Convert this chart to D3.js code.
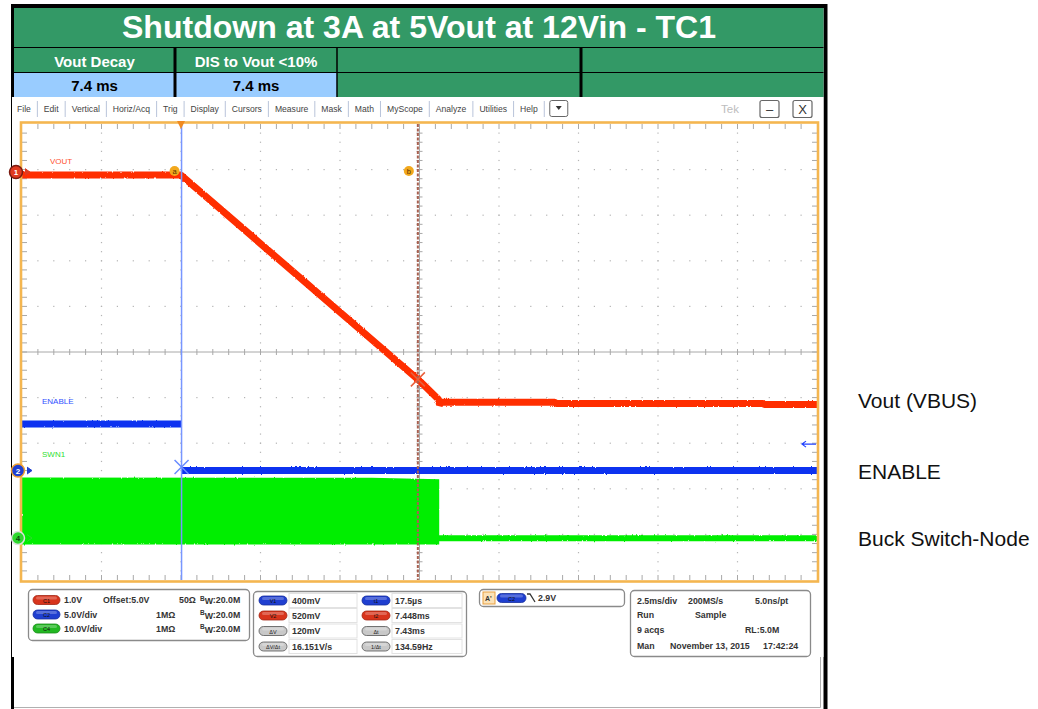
<!DOCTYPE html>
<html><head><meta charset="utf-8">
<script src="https://cdn.jsdelivr.net/npm/d3@7/dist/d3.min.js"></script>
<style>
html,body{margin:0;padding:0;background:#fff;}
svg{display:block;}
text{font-family:"Liberation Sans",Arial,Helvetica,sans-serif;}
</style></head>
<body>
<svg id="chart" width="1038" height="709"></svg>
<script>
// ================= DATA =================
const titleText = "Shutdown at 3A at 5Vout at 12Vin - TC1";
const headerLabels = ["Vout Decay", "DIS to Vout <10%", "", ""];
const headerValues = ["7.4 ms", "7.4 ms", "", ""];
const menuItems = ["File","Edit","Vertical","Horiz/Acq","Trig","Display","Cursors","Measure","Mask","Math","MyScope","Analyze","Utilities","Help"];

const timeDomainMs = [-5, 20];           // 2.5 ms/div, 10 divisions
// C1 : VOUT (volts vs ms)
const voutTime  = [-5, 0, 7.45, 8.1, 8.13, 8.2, 11.75, 11.8, 18.3, 18.35, 20];
const voutVolts = [5.0, 5.0, 0.52, 0.08, -0.04, 0.02, 0.02, -0.01, -0.01, -0.03, -0.03];
// C2 : ENABLE
const enableTime  = [-5, 0, 0, 0.02, 20];
const enableVolts = [5.1, 5.1, NaN, 0.0, 0.0];
// C4 : SWN1 switching envelope
const swTime = [-5, 6, 8.12, 8.12, 20];
const swHigh = [13.3, 13.2, 12.9, 0.6, 0.6];
const swLow  = [-1.4, -1.4, -1.4, -0.7, -0.7];

const traceNames = ["VOUT", "ENABLE", "SWN1"];
const sideLabels = ["Vout (VBUS)", "ENABLE", "Buck Switch-Node"];

const chanNames   = ["C1", "C2", "C4"];
const chanVdiv    = [1.0, 5.0, 10.0];
const chanOffset  = [5.0, 0, 0];
const chanPosDiv  = [3.88, -2.6, -4.08];
const chanScaleText  = ["1.0V", "5.0V/div", "10.0V/div"];
const chanOffsetText = ["Offset:5.0V", "", ""];
const chanImpText    = ["50Ω", "1MΩ", "1MΩ"];
const chanBwText     = [":20.0M", ":20.0M", ":20.0M"];

const cursorTimesMs = [0.0175, 7.448];
const cursorVolts   = [0.400, 0.520];
const triggerLevel  = 2.9;

const readLeftNames  = ["V1", "V2", "ΔV", "ΔV/Δt"];
const readLeftVals   = ["400mV", "520mV", "120mV", "16.151V/s"];
const readRightNames = ["t1", "t2", "Δt", "1/Δt"];
const readRightVals  = ["17.5µs", "7.448ms", "7.43ms", "134.59Hz"];
const trigText = "2.9V";
const acqRows = [["2.5ms/div", "200MS/s", "5.0ns/pt"], ["Run", "Sample", ""], ["9 acqs", "", "RL:5.0M"], ["Man", "November 13, 2015", "17:42:24"]];

// ================= COLORS =================
const cGreen = "#339966", cBlue = "#99ccff";
const colV = "#ff2d00", colE = "#0a32f0", colS = "#00ee00";
const chanColor = ["#d8341c", "#1f3fd0", "#22b822"];

// ================= DRAW =================
const svg = d3.select("#chart");
const defs = svg.append("defs");
const fz = defs.append("filter").attr("id", "fuzz").attr("x", "-2%").attr("y", "-20%").attr("width", "104%").attr("height", "140%");
fz.append("feTurbulence").attr("type", "fractalNoise").attr("baseFrequency", "0.9 0.35").attr("numOctaves", 1).attr("seed", 3).attr("result", "n");
fz.append("feDisplacementMap").attr("in", "SourceGraphic").attr("in2", "n").attr("scale", 2.5)
  .attr("xChannelSelector", "R").attr("yChannelSelector", "G");

// ---- header table ----
svg.append("rect").attr("x", 11).attr("y", 4).attr("width", 816).attr("height", 4).attr("fill", "#000");
svg.append("rect").attr("x", 11).attr("y", 4).attr("width", 3).attr("height", 705).attr("fill", "#000");
svg.append("rect").attr("x", 823.5).attr("y", 4).attr("width", 4).attr("height", 705).attr("fill", "#000");
svg.append("rect").attr("x", 14).attr("y", 8).attr("width", 809.5).attr("height", 89).attr("fill", cGreen);
const colEdges = [14, 175, 337, 581, 823.5];
headerValues.forEach((v, i) => {
  if (i < 2) svg.append("rect").attr("x", colEdges[i]).attr("y", 73).attr("width", colEdges[i+1]-colEdges[i]).attr("height", 24).attr("fill", cBlue);
});
svg.append("line").attr("x1", 14).attr("x2", 823.5).attr("y1", 47.5).attr("y2", 47.5).attr("stroke", "#000").attr("stroke-width", 1.2);
svg.append("line").attr("x1", 14).attr("x2", 823.5).attr("y1", 72.5).attr("y2", 72.5).attr("stroke", "#000").attr("stroke-width", 1.2);
[[175, 3], [337, 1.5], [581, 3]].forEach(([xx, w]) =>
  svg.append("line").attr("x1", xx).attr("x2", xx).attr("y1", 47).attr("y2", 97).attr("stroke", "#000").attr("stroke-width", w));
svg.append("text").attr("x", 419).attr("y", 37.5).attr("text-anchor", "middle")
  .attr("font-size", 31).attr("font-weight", "bold").attr("fill", "#fff")
  .attr("textLength", 594).attr("lengthAdjust", "spacingAndGlyphs").text(titleText);
headerLabels.forEach((t, i) => {
  svg.append("text").attr("x", (colEdges[i]+colEdges[i+1])/2).attr("y", 66.5).attr("text-anchor", "middle")
    .attr("font-size", 15).attr("font-weight", "bold").attr("fill", "#fff").text(t);
  svg.append("text").attr("x", (colEdges[i]+colEdges[i+1])/2).attr("y", 91).attr("text-anchor", "middle")
    .attr("font-size", 15).attr("font-weight", "bold").attr("fill", "#000").text(headerValues[i]);
});

// ---- scope screenshot background ----
svg.append("rect").attr("x", 12).attr("y", 97).attr("width", 811.5).attr("height", 560).attr("fill", "#fff");
svg.append("path").attr("d", "M14,707.5H820.5V657").attr("fill", "none").attr("stroke", "#b0b0b0").attr("stroke-width", 1);

// menu bar
const menu = svg.append("g").attr("font-size", 8.6).attr("fill", "#444");
let mx = 17;
menuItems.forEach((m, i) => {
  const t = menu.append("text").attr("x", mx).attr("y", 111.5).text(m);
  const w = t.node().getComputedTextLength();
  mx += w + 6.5;
  menu.append("line").attr("x1", mx).attr("x2", mx).attr("y1", 101).attr("y2", 117).attr("stroke", "#b9c4da").attr("stroke-width", 1);
  mx += 6.5;
});
menu.append("rect").attr("x", mx - 1).attr("y", 100.5).attr("width", 18).attr("height", 16).attr("rx", 2)
  .attr("fill", "#fff").attr("stroke", "#666").attr("stroke-width", 1);
menu.append("path").attr("d", `M${mx+5},106 h6 l-3,4 z`).attr("fill", "#333");
svg.append("text").attr("x", 721).attr("y", 113).attr("font-size", 11.5).attr("fill", "#bdbdbd").text("Tek");
[[760, "–"], [793, "X"]].forEach(([bx, s]) => {
  svg.append("rect").attr("x", bx).attr("y", 100.5).attr("width", 19).attr("height", 17).attr("rx", 2)
    .attr("fill", "#fff").attr("stroke", "#666").attr("stroke-width", 1.2);
  svg.append("text").attr("x", bx + 9.5).attr("y", 114).attr("text-anchor", "middle").attr("font-size", 13)
    .attr("fill", "#333").text(s);
});

// ---- plot scales ----
const X0 = 22, X1 = 817, Y0 = 124, Y1 = 580;
const x  = d3.scaleLinear().domain(timeDomainMs).range([X0, X1]);
const xd = d3.scaleLinear().domain([0, 10]).range([X0, X1]);
const yd = d3.scaleLinear().domain([-5, 5]).range([Y1, Y0]);
const chY = c => v => yd((v - chanOffset[c]) / chanVdiv[c] + chanPosDiv[c]);
const y1 = chY(0), y2 = chY(1), y4 = chY(2);

const plot = svg.append("g");
// graticule dots
const grid = plot.append("g").attr("fill", "#b4b4b4");
for (let i = 1; i < 10; i++) {
  if (i === 5) continue;
  for (let k = 1; k < 50; k++) {
    grid.append("rect").attr("x", xd(i) - 0.6).attr("y", yd(-5 + k/5) - 0.6).attr("width", 1.2).attr("height", 1.2);
    grid.append("rect").attr("x", xd(k/5) - 0.6).attr("y", yd(-5 + i) - 0.6).attr("width", 1.2).attr("height", 1.2);
  }
}
// center lines with ticks
const gc = plot.append("g").attr("stroke", "#a8a8a8").attr("stroke-width", 1);
gc.append("line").attr("x1", X0).attr("x2", X1).attr("y1", yd(0)).attr("y2", yd(0));
gc.append("line").attr("x1", xd(5)).attr("x2", xd(5)).attr("y1", Y0).attr("y2", Y1);
for (let k = 1; k < 50; k++) {
  const xx = xd(k/5), yy = yd(-5 + k/5);
  gc.append("line").attr("x1", xx).attr("x2", xx).attr("y1", yd(0) - 3).attr("y2", yd(0) + 3);
  gc.append("line").attr("x1", xd(5) - 3).attr("x2", xd(5) + 3).attr("y1", yy).attr("y2", yy);
  gc.append("line").attr("x1", xx).attr("x2", xx).attr("y1", Y0).attr("y2", Y0 + 5);
  gc.append("line").attr("x1", xx).attr("x2", xx).attr("y1", Y1).attr("y2", Y1 - 5);
  gc.append("line").attr("x1", X0).attr("x2", X0 + 5).attr("y1", yy).attr("y2", yy);
  gc.append("line").attr("x1", X1).attr("x2", X1 - 5).attr("y1", yy).attr("y2", yy);
}

// SWN1 envelope
const swData = swTime.map((t, i) => ({t, hi: swHigh[i], lo: swLow[i]}));
plot.append("path").datum(swData).attr("fill", colS).attr("filter", "url(#fuzz)")
  .attr("d", d3.area().x(d => x(d.t)).y0(d => y4(d.lo)).y1(d => y4(d.hi)));

// ENABLE
const enData = enableTime.map((t, i) => ({t, v: enableVolts[i]}));
plot.append("path").datum(enData).attr("fill", "none").attr("stroke", colE).attr("stroke-width", 7).attr("filter", "url(#fuzz)")
  .attr("d", d3.line().defined(d => !isNaN(d.v)).x(d => x(d.t)).y(d => y2(d.v)));

// VOUT
const voData = voutTime.map((t, i) => ({t, v: voutVolts[i]}));
plot.append("path").datum(voData).attr("fill", "none").attr("stroke", colV).attr("stroke-width", 7)
  .attr("stroke-linejoin", "bevel").attr("filter", "url(#fuzz)")
  .attr("d", d3.line().x(d => x(d.t)).y(d => y1(d.v)));

// trace name labels
const tl = plot.append("g").attr("font-size", 8);
tl.append("text").attr("x", 50).attr("y", y1(5) - 11).attr("fill", "#ff5030").text(traceNames[0]);
tl.append("text").attr("x", 42).attr("y", y2(5.1) - 20).attr("fill", "#3050ff").text(traceNames[1]);
tl.append("text").attr("x", 42).attr("y", y4(13.3) - 20).attr("fill", "#30e030").text(traceNames[2]);

// cursors
const cx1 = x(cursorTimesMs[0]), cx2 = x(cursorTimesMs[1]);
plot.append("line").attr("x1", cx1).attr("x2", cx1).attr("y1", Y0).attr("y2", Y1).attr("stroke", "#7896ff").attr("stroke-width", 1.5);
plot.append("line").attr("x1", cx2).attr("x2", cx2).attr("y1", Y0).attr("y2", Y1).attr("stroke", "#a86050")
  .attr("stroke-width", 2).attr("stroke-dasharray", "3,1.5");
function xMark(cx, cy, col) {
  plot.append("path").attr("d", `M${cx-7},${cy-7}L${cx+7},${cy+7}M${cx-7},${cy+7}L${cx+7},${cy-7}`)
    .attr("stroke", col).attr("stroke-width", 1.5).attr("fill", "none");
}
xMark(cx1, y2(cursorVolts[0]), "#6a8cff");
xMark(cx2, y1(cursorVolts[1]), "#e8603c");
[[cx1 - 7, "a"], [cx2 - 9, "b"]].forEach(([ax, s]) => {
  plot.append("circle").attr("cx", ax).attr("cy", y1(5) - 4).attr("r", 5).attr("fill", "#f2a81c");
  plot.append("text").attr("x", ax).attr("y", y1(5) - 1.5).attr("text-anchor", "middle").attr("font-size", 7.5).attr("fill", "#553300").text(s);
});

// frame
plot.append("rect").attr("x", X0 - 1).attr("y", Y0 - 1.5).attr("width", X1 - X0 + 2).attr("height", Y1 - Y0 + 3)
  .attr("fill", "none").attr("stroke", "#f4b650").attr("stroke-width", 2.6);
// trigger position marker
plot.append("path").attr("d", `M${x(0)-4},${Y0-3}h8l-4,8z`).attr("fill", "#f08a20");
// trigger level arrow
const ty = y2(triggerLevel);
plot.append("path").attr("d", `M${X1-1},${ty}H${X1-15}M${X1-11},${ty-3}L${X1-15},${ty}L${X1-11},${ty+3}`)
  .attr("stroke", "#2040ff").attr("stroke-width", 1.2).attr("fill", "none");

// channel markers
[[0, y1(5) - 3, 16, "#e03a20", "#7a1a10", "1"], [1, y2(0), 18, "#1f3fd0", "#f0a030", "2"], [2, y4(0), 18, "#2ed82e", "#e0e0e0", "4"]]
.forEach(([c, cy, cx, fill, ring, lab]) => {
  plot.append("path").attr("d", `M${cx+9},${cy-3.5}L${cx+14},${cy}L${cx+9},${cy+3.5}`)
    .attr("fill", c === 2 ? "none" : fill).attr("stroke", fill).attr("stroke-width", 1);
  plot.append("circle").attr("cx", cx).attr("cy", cy).attr("r", 6.5).attr("fill", fill).attr("stroke", ring).attr("stroke-width", 1.5);
  plot.append("text").attr("x", cx).attr("y", cy + 3).attr("text-anchor", "middle").attr("font-size", 8)
    .attr("font-weight", "bold").attr("fill", c === 2 ? "#114411" : "#fff").text(lab);
});

// side labels
const lastV = voutVolts[voutVolts.length - 1], lastE = enableVolts[enableVolts.length - 1];
const sl = svg.append("g").attr("font-size", 21).attr("fill", "#111");
sl.append("text").attr("x", 858).attr("y", y1(lastV) + 3.5).text(sideLabels[0]);
sl.append("text").attr("x", 858).attr("y", y2(lastE) + 8).text(sideLabels[1]);
sl.append("text").attr("x", 858).attr("y", y4(0) + 7.5).text(sideLabels[2]);

// ---- bottom panels ----
const pan = svg.append("g").attr("font-size", 8.8).attr("font-weight", "bold").attr("fill", "#333");
function panel(px, py, w, h) {
  pan.append("rect").attr("x", px).attr("y", py).attr("width", w).attr("height", h).attr("rx", 4)
    .attr("fill", "#fff").attr("stroke", "#8a8a8a").attr("stroke-width", 1.3);
}
function pill(px, py, w, col, label, dark) {
  pan.append("rect").attr("x", px).attr("y", py).attr("width", w).attr("height", 9).attr("rx", 4.5)
    .attr("fill", col).attr("stroke", dark ? "#555" : d3.color(col).darker(0.8)).attr("stroke-width", 0.8);
  pan.append("rect").attr("x", px + 3).attr("y", py + 1).attr("width", w - 6).attr("height", 3).attr("rx", 1.5)
    .attr("fill", "#fff").attr("opacity", 0.25);
  pan.append("text").attr("x", px + w/2).attr("y", py + 7).attr("text-anchor", "middle").attr("font-size", 5.5)
    .attr("font-weight", "normal").attr("fill", dark ? "#222" : "#111").text(label);
}
// channel panel
panel(28.5, 589.5, 221, 51);
const chRowY = [600, 614.5, 628.5];
chanNames.forEach((n, i) => {
  pill(33, chRowY[i] - 4.5, 27, chanColor[i], n, false);
  pan.append("text").attr("x", 64).attr("y", chRowY[i] + 3).text(chanScaleText[i]);
  pan.append("text").attr("x", 103).attr("y", chRowY[i] + 3).text(chanOffsetText[i]);
  pan.append("text").attr("x", i === 0 ? 179 : 156).attr("y", chRowY[i] + 3).text(chanImpText[i]);
  const t = pan.append("text").attr("x", 200).attr("y", chRowY[i] + 3);
  t.append("tspan").attr("font-size", 6.5).attr("dy", -2.5).text("B");
  t.append("tspan").attr("dy", 3.5).attr("font-size", 8.8).text("W");
  t.append("tspan").attr("dy", -1).text(chanBwText[i]);
});
// cursor readout panel
panel(253.5, 591.5, 213, 65);
const rdY = [600.5, 615.5, 631, 646.5];
readLeftNames.forEach((n, i) => {
  const cols = ["#1f3fd0", "#d8341c", "#c8c8c8", "#c8c8c8"];
  pan.append("rect").attr("x", 289).attr("y", rdY[i] - 7).attr("width", 68).attr("height", 14).attr("fill", "#fff").attr("stroke", "#e2e2e2");
  pan.append("rect").attr("x", 392).attr("y", rdY[i] - 7).attr("width", 70).attr("height", 14).attr("fill", "#fff").attr("stroke", "#e2e2e2");
  pill(259, rdY[i] - 4.5, 28, cols[i], n, i > 1);
  pill(362, rdY[i] - 4.5, 28, cols[i], readRightNames[i], i > 1);
  pan.append("text").attr("x", 292).attr("y", rdY[i] + 3).text(readLeftVals[i]);
  pan.append("text").attr("x", 395).attr("y", rdY[i] + 3).text(readRightVals[i]);
});
// trigger panel
panel(479.5, 589.5, 145, 17);
pan.append("rect").attr("x", 483).attr("y", 592).attr("width", 12).attr("height", 12).attr("fill", "#fbe2b8").attr("stroke", "#e8a040");
pan.append("text").attr("x", 485).attr("y", 601).attr("font-size", 7).attr("fill", "#333").text("A'");
pill(497, 593.5, 29, chanColor[1], chanNames[1], false);
pan.append("path").attr("d", "M527,594h3l5,8").attr("stroke", "#333").attr("stroke-width", 1.3).attr("fill", "none");
pan.append("text").attr("x", 538).attr("y", 601).text(trigText);
// acquisition panel
panel(630.5, 590.5, 180, 66);
const acqY = [600.5, 615, 629.5, 645.5];
const acqX = [[637, 688, 755], [637, 695, 0], [637, 0, 745], [637, 670, 763]];
acqRows.forEach((r, i) => r.forEach((s, j) => {
  if (s) pan.append("text").attr("x", acqX[i][j]).attr("y", acqY[i] + 3).text(s);
}));
</script>
</body></html>
